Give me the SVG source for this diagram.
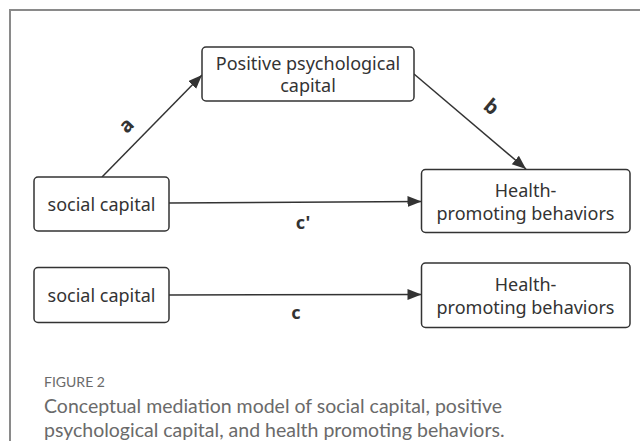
<svg xmlns="http://www.w3.org/2000/svg" width="640" height="441" viewBox="0 0 640 441">
<style>
.box{fill:#fff;stroke:#333;stroke-width:1.5}
.t{font-family:"Noto Sans","Open Sans",sans-serif;font-size:18px;fill:#333;text-anchor:middle}
.lbl{font-family:"Noto Sans","Open Sans",sans-serif;font-size:18px;font-weight:bold;fill:#333;text-anchor:middle}
.big{font-size:20px}
.edge{stroke:#333;stroke-width:1.5;fill:none}
.cap{font-family:Lato,"Open Sans",sans-serif;fill:#6a6a6a}
</style>
<defs>
<marker id="arr" markerUnits="userSpaceOnUse" markerWidth="15" markerHeight="12" refX="14" refY="5.5" orient="auto">
<path d="M0,0 L14,5.5 L0,11 z" fill="#333"/>
</marker>
</defs>
<rect width="640" height="441" fill="#fff"/>
<path d="M10,441 V10 H640" fill="none" stroke="#8a8a8a" stroke-width="2"/>
<g id="connectors">
<line class="edge" x1="102" y1="177" x2="202" y2="75" marker-end="url(#arr)"/>
<line class="edge" x1="414" y1="74" x2="526" y2="169" marker-end="url(#arr)"/>
<line class="edge" x1="169" y1="203" x2="421.5" y2="201.5" marker-end="url(#arr)"/>
<line class="edge" x1="169" y1="295" x2="421.5" y2="294.5" marker-end="url(#arr)"/>
<text class="lbl big" transform="translate(131,130) rotate(-45)">a</text>
<text class="lbl big" transform="translate(487,112) rotate(40)">b</text>
<text class="lbl" x="303" y="229">c'</text>
<text class="lbl" x="296" y="319">c</text>
</g>
<g id="ppc">
<rect class="box" x="202" y="47" width="212" height="54" rx="4"/>
<text class="t" x="308" y="70">Positive psychological</text>
<text class="t" x="308" y="92">capital</text>
</g>
<g id="sc1">
<rect class="box" x="34" y="177" width="135" height="54" rx="4"/>
<text class="t" x="101.5" y="211">social capital</text>
</g>
<g id="hpb1">
<rect class="box" x="421.5" y="169.5" width="208.5" height="63" rx="4"/>
<text class="t" x="525.5" y="197">Health-</text>
<text class="t" x="525.5" y="220">promoting behaviors</text>
</g>
<g id="sc2">
<rect class="box" x="34" y="267.5" width="135" height="55" rx="4"/>
<text class="t" x="101.5" y="302">social capital</text>
</g>
<g id="hpb2">
<rect class="box" x="421.5" y="263" width="208.5" height="64.5" rx="4"/>
<text class="t" x="525.5" y="291">Health-</text>
<text class="t" x="525.5" y="314">promoting behaviors</text>
</g>
<text class="cap" x="44" y="387" font-size="14">FIGURE 2</text>
<text class="cap" x="44" y="413" font-size="19.5">Conceptual mediation model of social capital, positive</text>
<text class="cap" x="44" y="437" font-size="19.5">psychological capital, and health promoting behaviors.</text>
</svg>
